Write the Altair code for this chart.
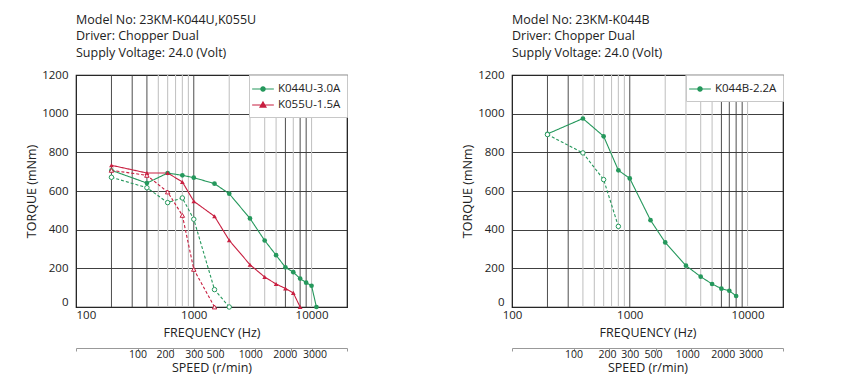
import altair as alt
import pandas as pd

FONT = "Open Sans"
GREEN = "#25985c"
RED = "#c81f40"

# ---------------- data : left chart (23KM-K044U, K055U) ----------------
k044u_freq = [200, 400, 600, 800, 1000, 1500, 2000, 3000, 4000, 5000, 6000, 7000, 8000, 9000, 10000, 11000]
k044u_torque = [707, 641, 693, 681, 669, 638, 586, 458, 344, 268, 205, 180, 147, 126, 110, 0]
k044u_pull_freq = [200, 400, 600, 800, 1000, 1500, 2000]
k044u_pull_torque = [671, 617, 540, 564, 454, 90, 0]
k055u_freq = [200, 400, 600, 800, 1000, 1500, 2000, 3000, 4000, 5000, 6000, 7000, 8000]
k055u_torque = [733, 693, 693, 647, 547, 469, 345, 219, 155, 119, 96, 73, 0]
k055u_pull_freq = [200, 400, 600, 800, 1000, 1500]
k055u_pull_torque = [707, 681, 595, 474, 195, 0]

# ---------------- data : right chart (23KM-K044B) ----------------
k044b_freq = [200, 400, 600, 800, 1000, 1500, 2000, 3000, 4000, 5000, 6000, 7000, 8000]
k044b_torque = [895, 975, 883, 707, 665, 449, 334, 214, 157, 119, 95, 84, 57]
k044b_pull_freq = [200, 400, 600, 800]
k044b_pull_torque = [892, 797, 659, 417]

# axes / grid
freq_labels = [100, 1000, 10000]
torque_ticks = [0, 200, 400, 600, 800, 1000, 1200]
speed_ticks = [100, 200, 300, 500, 1000, 2000, 3000]
left_dark_grid = [200, 300, 400, 1000, 6000, 8000, 9000]
left_light_grid = [500, 600, 700, 800, 900, 2000, 3000, 4000, 5000, 7000, 10000]
right_dark_grid = [200, 300, 1000, 6000, 7000, 8000, 9000]
right_light_grid = [400, 500, 600, 700, 800, 900, 2000, 3000, 4000, 5000, 10000]

left_title = ["Model No: 23KM-K044U,K055U", "Driver: Chopper Dual", "Supply Voltage: 24.0 (Volt)"]
right_title = ["Model No: 23KM-K044B", "Driver: Chopper Dual", "Supply Voltage: 24.0 (Volt)"]

# small nudges of speed labels, as printed in each original panel
left_speed_nudge = {200: -8, 500: -5, 1000: -5, 2000: -6, 3000: 3}
right_speed_nudge = {200: -2, 500: -3, 1000: -4, 2000: -4, 3000: 3}

# legend symbols: short line with its marker (unit box scaled by sqrt(symbolSize)/2 = 7px)
CIRCLE_LEG = "M-1.55,0H1.55M0.31,0A0.31,0.31,0,1,1,-0.31,0A0.31,0.31,0,1,1,0.31,0Z"
TRI_LEG = "M-1.55,0H1.55M0,-0.42L0.42,0.3L-0.42,0.3Z"


def panel(curves, series_info, title_lines, dark_grid, light_grid, nudge, x_flush):
    names = [s[0] for s in series_info]
    colors = [s[1] for s in series_info]
    color_of = {s[0]: s[1] for s in series_info}
    shape_of = {s[0]: s[2] for s in series_info}

    xs = alt.Scale(type="log", domain=[100, 20000], nice=False)
    ys = alt.Scale(domain=[0, 1200], nice=False)
    y_axis = alt.Axis(values=torque_ticks, format="d", title="TORQUE (mNm)", grid=True, gridColor="#2a2a2a",
                      gridWidth=0.9, ticks=False, tickSize=0, domain=False, labelPadding=8,
                      titlePadding=3, labelFlush=False,
                      labelBaseline={"condition": {"test": "datum.value == 0", "value": "bottom"},
                                     "value": "middle"})
    x_axis = alt.Axis(orient="bottom", values=freq_labels, format="d", title="FREQUENCY (Hz)",
                      grid=False, ticks=False, tickSize=0, domain=False, labelPadding=2,
                      titlePadding=6, labelFlush=x_flush)

    light = alt.Chart(pd.DataFrame({"freq": light_grid})).mark_rule(
        color="#c4c4c4", strokeWidth=1.1
    ).encode(x=alt.X("freq:Q", scale=xs, axis=None))
    dark = alt.Chart(pd.DataFrame({"freq": dark_grid})).mark_rule(
        color="#3a3a3a", strokeWidth=0.9
    ).encode(x=alt.X("freq:Q", scale=xs, axis=None))

    layers = [light, dark]
    first = True
    for name, kind, fs, ts in curves:
        d = pd.DataFrame({"freq": fs, "torque": ts})
        col = color_of[name]
        dash = [1, 0] if kind == "max" else [3, 2]
        layers.append(alt.Chart(d).mark_line(strokeWidth=1.1, color=col, strokeDash=dash).encode(
            x=alt.X("freq:Q", scale=xs, axis=x_axis if first else None),
            y=alt.Y("torque:Q", scale=ys, axis=y_axis)))
        first = False
    for name, kind, fs, ts in curves:
        d = pd.DataFrame({"freq": fs, "torque": ts})
        col = color_of[name]
        if kind == "max":
            mk = alt.Chart(d).mark_point(shape=shape_of[name], filled=True, size=22, opacity=1, color=col)
        else:
            mk = alt.Chart(d).mark_point(shape=shape_of[name], filled=True, size=20, opacity=1,
                                         fill="white", stroke=col, strokeWidth=1)
        layers.append(mk.encode(x=alt.X("freq:Q", scale=xs, axis=None),
                                y=alt.Y("torque:Q", scale=ys, axis=y_axis)))

    leg_props = dict(orient="top-right", offset=0, title=None, fillColor="white", strokeColor="#c8c8c8",
                     padding=6, symbolSize=196, symbolStrokeWidth=1.2, labelFontSize=11.5, labelFont=FONT,
                     labelColor="#222", labelOffset=7, rowPadding=2)
    leg_df = pd.DataFrame({"series": names})
    layers.append(alt.Chart(leg_df).mark_point(filled=True, clip=True, opacity=1).encode(
        x=alt.value(-100), y=alt.value(-100),
        fill=alt.Fill("series:N", scale=alt.Scale(domain=names, range=colors), legend=alt.Legend(**leg_props)),
        stroke=alt.Stroke("series:N", scale=alt.Scale(domain=names, range=colors), legend=alt.Legend(**leg_props)),
        shape=alt.Shape("series:N", scale=alt.Scale(domain=names, range=[s[3] for s in series_info]),
                        legend=alt.Legend(**leg_props)),
    ))

    label_offset = {
        "condition": [{"test": f"datum.value == {k}", "value": v} for k, v in nudge.items()],
        "value": 0,
    }
    layers.append(alt.Chart(pd.DataFrame({"rpm": speed_ticks})).mark_point(opacity=0).encode(
        x=alt.X("rpm:Q", scale=alt.Scale(type="log", domain=[30, 6000], nice=False), axis=alt.Axis(
            orient="bottom", offset=41, values=[30] + speed_ticks + [6000], format="d",
            labelExpr="(datum.value < 50 || datum.value > 5000) ? '' : datum.label",
            grid=False, domainColor="#999", tickColor="#999", tickSize=3, labelPadding=-2,
            labelFontSize=10.5, labelOverlap=False, labelOffset=label_offset,
            title="SPEED (r/min)", titlePadding=2, labelFlush=False)),
        y=alt.value(0),
    ))

    return alt.layer(*layers).resolve_scale(x="independent").properties(
        width=271, height=232,
        title=alt.TitleParams(text=title_lines, anchor="start", frame="group", fontSize=12.5,
                              fontWeight="normal", font=FONT, lineHeight=16.5, offset=10, color="#222"),
    )


left = panel(
    [("K044U-3.0A", "max", k044u_freq, k044u_torque),
     ("K044U-3.0A", "pull", k044u_pull_freq, k044u_pull_torque),
     ("K055U-1.5A", "max", k055u_freq, k055u_torque),
     ("K055U-1.5A", "pull", k055u_pull_freq, k055u_pull_torque)],
    [("K044U-3.0A", GREEN, "circle", CIRCLE_LEG), ("K055U-1.5A", RED, "triangle-up", TRI_LEG)],
    left_title, left_dark_grid, left_light_grid, left_speed_nudge, True)

right = panel(
    [("K044B-2.2A", "max", k044b_freq, k044b_torque),
     ("K044B-2.2A", "pull", k044b_pull_freq, k044b_pull_torque)],
    [("K044B-2.2A", GREEN, "circle", CIRCLE_LEG)],
    right_title, right_dark_grid, right_light_grid, right_speed_nudge, False)

chart = alt.hconcat(left, right, spacing=112).resolve_scale(
    fill="independent", stroke="independent", shape="independent"
).properties(
    padding={"left": 17, "top": 4, "right": 0, "bottom": 0}
).configure_view(stroke="#111", strokeWidth=1.2).configure_axis(
    labelFont=FONT, titleFont=FONT, labelFontSize=11.5, titleFontSize=12.5,
    labelColor="#222", titleColor="#222", titleFontWeight="normal"
)

chart.save("out.html", embed_options={"renderer": "svg", "actions": False})
